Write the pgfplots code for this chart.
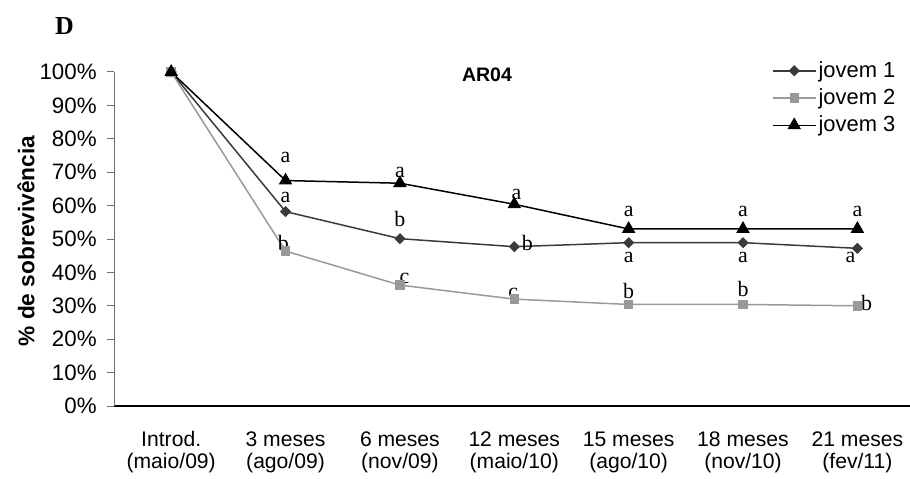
\documentclass[border=0pt]{standalone}
\usepackage{pgfplots}
\pgfplotsset{compat=1.18}
\usepackage{fontspec}
\setmainfont{Liberation Sans}
\newfontfamily\serif{Liberation Serif}

\definecolor{jov1}{HTML}{3A3A3A}
\definecolor{jov2}{HTML}{999999}
\definecolor{yaxisgray}{HTML}{707070}

\begin{document}
\begin{tikzpicture}
\useasboundingbox (0,0) rectangle (455bp,239.5bp);
\begin{axis}[
  at={(57bp,36.5bp)}, anchor=south west,
  scale only axis, width=398bp, height=167bp,
  xmin=-0.5, xmax=6.46, ymin=0, ymax=100,
  axis x line=bottom, axis y line=left,
  x axis line style={-, black, line width=0.9pt},
  y axis line style={-, yaxisgray, line width=0.5pt},
  ytick={0,10,...,100},
  yticklabel={\pgfmathprintnumber{\tick}\%},
  /pgf/number format/assume math mode=true,
  tick align=outside,
  y tick style={yaxisgray, line width=0.5pt},
  x tick style={draw=none},
  major tick length=3.5bp,
  yticklabel style={font=\fontsize{11.2}{12}\selectfont, inner sep=1pt, xshift=-4bp},
  xtick={0,...,6},
  xticklabels={
    {\strut Introd.\\(maio/09)},
    {\strut 3 meses\\(ago/09)},
    {\strut 6 meses\\(nov/09)},
    {\strut 12 meses\\(maio/10)},
    {\strut 15 meses\\(ago/10)},
    {\strut 18 meses\\(nov/10)},
    {\strut 21 meses\\(fev/11)}},
  xticklabel style={font=\fontsize{10.6}{11.5}\selectfont, align=center, anchor=north, yshift=-5bp},
  clip=false,
  legend style={draw=none, fill=none, at={(axis description cs:0.8185,1.051)}, anchor=north west,
    font=\fontsize{11}{12}\selectfont, row sep=2.2pt,
    nodes={inner sep=1pt}},
  legend cell align=left,
  legend image code/.code={%
    \draw[mark repeat=2, mark phase=2] plot coordinates {(0bp,0bp) (10.8bp,0bp) (21.6bp,0bp)};},
]
% jovem 1: dark grey, diamonds
\addplot[jov1, line width=0.75pt, mark=square*, mark size=1.6pt,
  mark options={rotate=45, fill=jov1, draw=jov1}]
  coordinates {(0,100) (1,58.2) (2,50.1) (3,47.7) (4,48.9) (5,48.9) (6,47.2)};
\addlegendentry{jovem 1}
% jovem 2: light grey, squares
\addplot[jov2, line width=0.75pt, mark=square*, mark size=2pt,
  mark options={fill=jov2, draw=jov2}]
  coordinates {(0,100) (1,46.4) (2,36.2) (3,32.0) (4,30.4) (5,30.4) (6,30.0)};
\addlegendentry{jovem 2}
% jovem 3: black, triangles
\addplot[black, line width=0.75pt, mark=triangle*, mark size=3.2pt,
  mark options={fill=black}]
  coordinates {(0,100) (1,67.5) (2,66.7) (3,60.4) (4,53.0) (5,53.0) (6,53.0)};
\addlegendentry{jovem 3}

% significance letters
\begin{scope}[every node/.style={anchor=base, inner sep=0pt, font=\serif\fontsize{11}{12}\selectfont}]
% jovem 3
\node at (axis cs:1,72.8) {a};
\node at (axis cs:2,68.3) {a};
\node at (axis cs:3.02,61.7) {a};
\node at (axis cs:4,56.6) {a};
\node at (axis cs:5,56.6) {a};
\node at (axis cs:6,56.6) {a};
% jovem 1
\node at (axis cs:1,60.8) {a};
\node at (axis cs:2,53.7) {b};
\node at (axis cs:3.115,46.7) {b};
\node at (axis cs:4,42.9) {a};
\node at (axis cs:5,42.9) {a};
\node at (axis cs:5.94,42.9) {a};
% jovem 2
\node at (axis cs:0.98,46.7) {b};
\node at (axis cs:2.04,36.7) {c};
\node at (axis cs:2.99,32.2) {c};
\node at (axis cs:4,32.2) {b};
\node at (axis cs:5,32.9) {b};
\node at (axis cs:6.08,28.7) {b};
\end{scope}
\end{axis}

% panel letter, title and y label
\node[font=\serif\bfseries\fontsize{13}{14}\selectfont] at (32.25bp,226.5bp) {D};
\node[font=\bfseries\fontsize{9.8}{11}\selectfont] at (243.5bp,202bp) {AR04};
\node[rotate=90, font=\bfseries\fontsize{11.4}{13}\selectfont] at (13bp,119bp) {\% de sobrevivência};
\end{tikzpicture}
\end{document}
